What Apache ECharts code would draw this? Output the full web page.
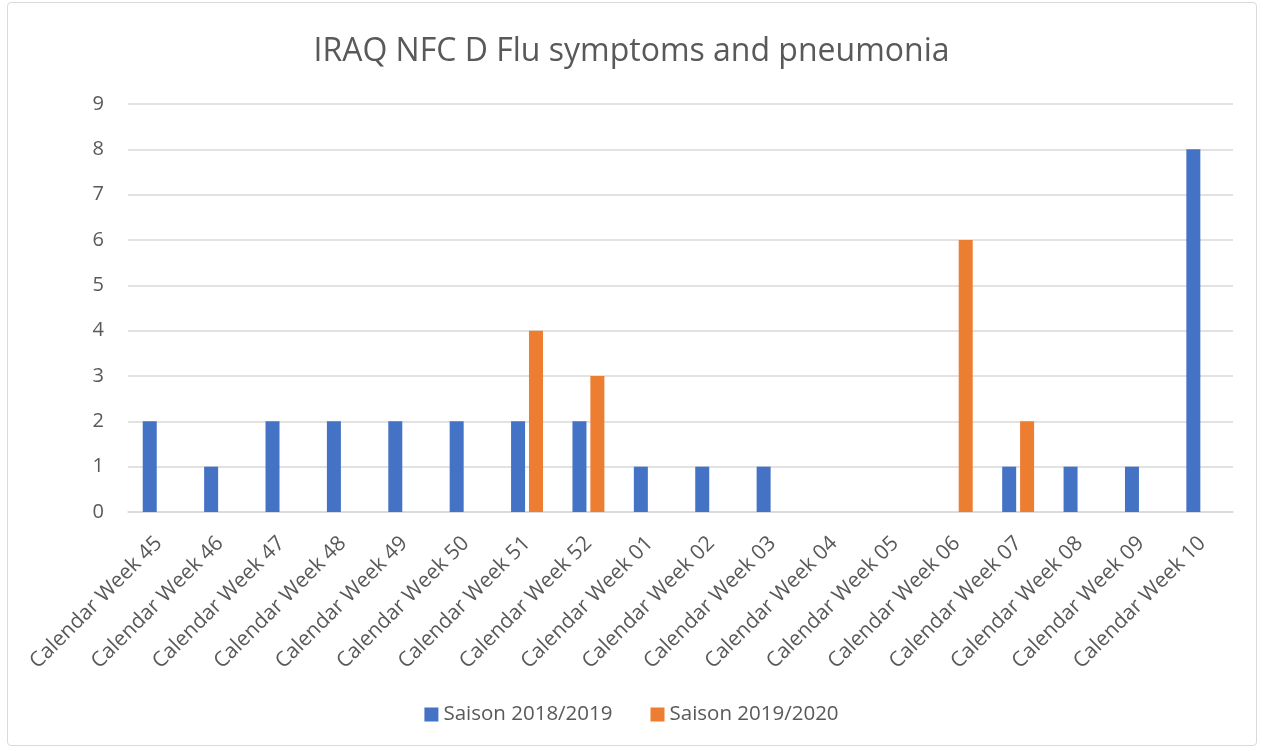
<!DOCTYPE html>
<html><head><meta charset="utf-8">
<script src="https://cdn.jsdelivr.net/npm/echarts@6/dist/echarts.min.js"></script>
<style>
html,body{margin:0;padding:0;background:#fff;}
#frame{position:absolute;left:7px;top:2px;width:1250px;height:744px;border:1px solid #d9d9d9;border-radius:4px;box-sizing:border-box;}
#chart{position:absolute;left:0;top:0;width:1263px;height:751px;}
</style></head>
<body>
<div id="frame"></div>
<div id="chart"></div>
<script>
const categories = ["Calendar Week 45","Calendar Week 46","Calendar Week 47","Calendar Week 48","Calendar Week 49","Calendar Week 50","Calendar Week 51","Calendar Week 52","Calendar Week 01","Calendar Week 02","Calendar Week 03","Calendar Week 04","Calendar Week 05","Calendar Week 06","Calendar Week 07","Calendar Week 08","Calendar Week 09","Calendar Week 10"];
const season1819 = [2,1,2,2,2,2,2,2,1,1,1,0,0,0,1,1,1,8];
const season1920 = [0,0,0,0,0,0,4,3,0,0,0,0,0,6,2,0,0,0];
const seriesNames = ["Saison 2018/2019","Saison 2019/2020"];
const titleText = "IRAQ NFC D Flu symptoms and pneumonia";

const font = "'Open Sans', 'Noto Sans', sans-serif";
const chart = echarts.init(document.getElementById('chart'), null, {renderer:'canvas'});
chart.setOption({
  animation:false,
  backgroundColor:'transparent',
  title:{text:titleText,left:'center',top:31,textStyle:{color:'#595959',fontSize:32,fontWeight:'normal',fontFamily:font}},
  grid:{left:128,right:30,top:104,bottom:239,containLabel:false},
  legend:{bottom:21,left:'center',itemWidth:14,itemHeight:14,itemGap:38,icon:'rect',
    textStyle:{color:'#595959',fontSize:20.5,fontFamily:font},data:seriesNames},
  xAxis:{type:'category',data:categories,
    axisLine:{lineStyle:{color:'#d9d9d9',width:1.5}},axisTick:{show:false},
    axisLabel:{rotate:45,color:'#595959',fontSize:21,fontFamily:font,interval:0,margin:28}},
  yAxis:{type:'value',min:0,max:9,interval:1,
    axisLine:{show:false},axisTick:{show:false},
    splitLine:{lineStyle:{color:'#d9d9d9',width:1.5}},
    axisLabel:{color:'#595959',fontSize:20,fontFamily:font,margin:24}},
  series:[
    {name:seriesNames[0],type:'bar',data:season1819,barWidth:14,barGap:'28%',itemStyle:{color:'#4472c4'}},
    {name:seriesNames[1],type:'bar',data:season1920,barWidth:14,itemStyle:{color:'#ed7d31'}}
  ]
});
</script>
</body></html>
